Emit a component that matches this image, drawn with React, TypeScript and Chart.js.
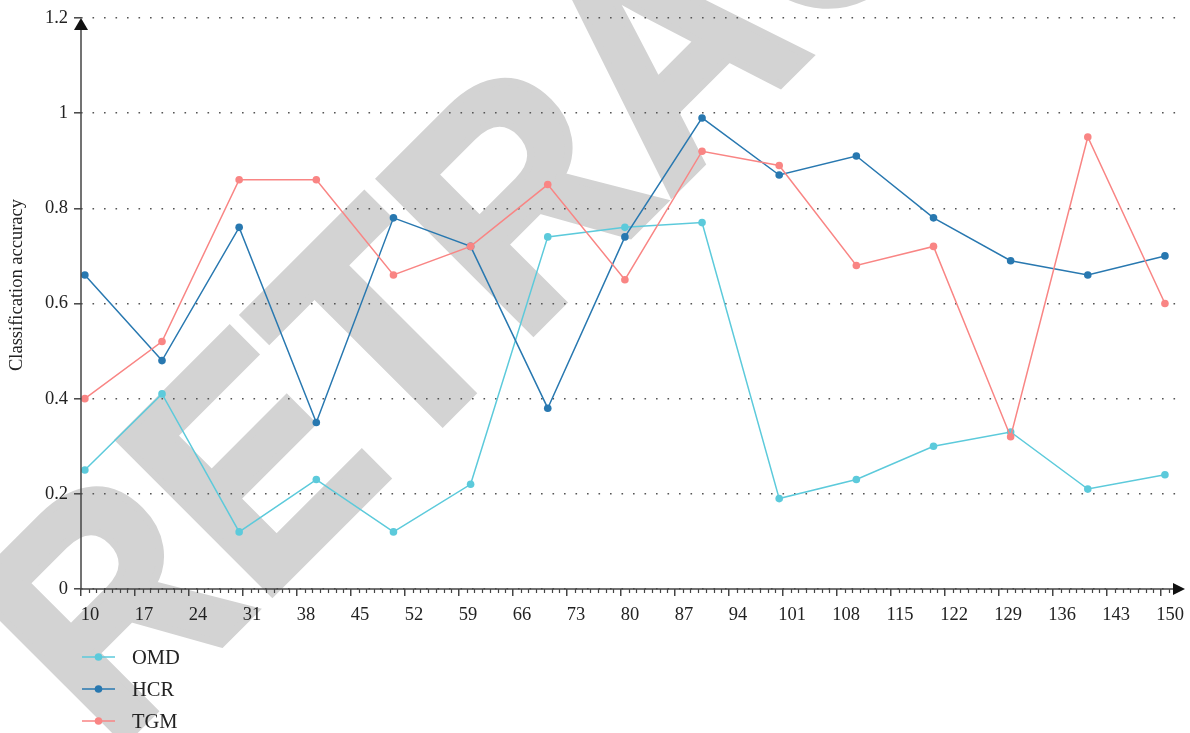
import React, { useEffect, useRef } from "react";
import { Chart, registerables } from "chart.js";

Chart.register(...registerables);

const xValues = [10, 20, 30, 40, 50, 60, 70, 80, 90, 100, 110, 120, 130, 140, 150];
const omd = [0.25, 0.41, 0.12, 0.23, 0.12, 0.22, 0.74, 0.76, 0.77, 0.19, 0.23, 0.3, 0.33, 0.21, 0.24];
const hcr = [0.66, 0.48, 0.76, 0.35, 0.78, 0.72, 0.38, 0.74, 0.99, 0.87, 0.91, 0.78, 0.69, 0.66, 0.7];
const tgm = [0.4, 0.52, 0.86, 0.86, 0.66, 0.72, 0.85, 0.65, 0.92, 0.89, 0.68, 0.72, 0.32, 0.95, 0.6];
const seriesNames = ["OMD", "HCR", "TGM"];
const seriesColors = ["#5ccadb", "#2878b0", "#f98584"];
const xTickLabels = ["10", "17", "24", "31", "38", "45", "52", "59", "66", "73", "80", "87", "94", "101", "108", "115", "122", "129", "136", "143", "150"];
const yTickLabels = ["0", "0.2", "0.4", "0.6", "0.8", "1", "1.2"];
const yTitle = "Classification accuracy";
const watermark = "RETRACTED";

const SERIF = '"Liberation Serif", "Times New Roman", serif';
const AXIS_COLOR = "#444";

const decorPlugin = {
  id: "decor",
  beforeDraw(chart: any) {
    const ctx = chart.ctx;
    ctx.save();
    ctx.translate(111, 754);
    ctx.rotate(-Math.PI / 4);
    ctx.scale(0.92, 1);
    ctx.font = 'bold 314px "Liberation Sans", Arial, sans-serif';
    ctx.fillStyle = "#d3d3d3";
    ctx.strokeStyle = "#d3d3d3";
    ctx.lineWidth = 8;
    ctx.lineJoin = "miter";
    ctx.textBaseline = "alphabetic";
    ctx.textAlign = "left";
    ctx.fillText(watermark, 0, 0);
    ctx.strokeText(watermark, 0, 0);
    ctx.restore();
  },
  afterDraw(chart: any) {
    const ctx = chart.ctx;
    const area = chart.chartArea;
    const xs = chart.scales.x;
    ctx.save();
    ctx.strokeStyle = AXIS_COLOR;
    ctx.fillStyle = "#111";
    ctx.lineWidth = 1.5;
    ctx.beginPath();
    ctx.moveTo(area.left, area.bottom);
    ctx.lineTo(area.right - 10, area.bottom);
    ctx.stroke();
    ctx.beginPath();
    ctx.moveTo(area.left, area.bottom);
    ctx.lineTo(area.left, area.top + 10);
    ctx.stroke();
    ctx.beginPath();
    ctx.moveTo(area.right, area.bottom);
    ctx.lineTo(area.right - 12, area.bottom - 6);
    ctx.lineTo(area.right - 12, area.bottom + 6);
    ctx.closePath();
    ctx.fill();
    ctx.beginPath();
    ctx.moveTo(area.left, area.top);
    ctx.lineTo(area.left - 7, area.top + 12);
    ctx.lineTo(area.left + 7, area.top + 12);
    ctx.closePath();
    ctx.fill();
    ctx.lineWidth = 1.2;
    ctx.beginPath();
    for (let n = 0; xs.min + n <= 150.6; n++) {
      if (n % 7 === 0) continue;
      const px = Math.round(xs.getPixelForValue(xs.min + n)) + 0.5;
      ctx.moveTo(px, area.bottom);
      ctx.lineTo(px, area.bottom + 4);
    }
    ctx.stroke();
    ctx.save();
    ctx.translate(17, 285);
    ctx.rotate(-Math.PI / 2);
    ctx.font = `18.5px ${SERIF}`;
    ctx.fillStyle = "#222";
    ctx.textAlign = "center";
    ctx.textBaseline = "middle";
    ctx.fillText(yTitle, 0, 0);
    ctx.restore();
    const rows = [657, 689, 721];
    chart.data.datasets.forEach((ds: any, i: number) => {
      const y = rows[i];
      ctx.strokeStyle = ds.borderColor;
      ctx.lineWidth = 1.5;
      ctx.beginPath();
      ctx.moveTo(82, y);
      ctx.lineTo(115, y);
      ctx.stroke();
      ctx.fillStyle = ds.borderColor;
      ctx.beginPath();
      ctx.arc(98.5, y, 3.8, 0, Math.PI * 2);
      ctx.fill();
      ctx.fillStyle = "#222";
      ctx.font = `20.5px ${SERIF}`;
      ctx.textAlign = "left";
      ctx.textBaseline = "alphabetic";
      ctx.fillText(ds.label, 132, y + 7);
    });
    ctx.restore();
  },
};

export default function App() {
  const canvasRef = useRef<HTMLCanvasElement | null>(null);

  useEffect(() => {
    const canvas = canvasRef.current;
    if (!canvas) return;
    const seriesValues = [omd, hcr, tgm];
    const orders = [2, 1, 0];
    const chart = new Chart(canvas, {
      type: "line",
      data: {
        datasets: seriesValues.map((vals, i) => ({
          label: seriesNames[i],
          data: xValues.map((x, j) => ({ x, y: vals[j] })),
          borderColor: seriesColors[i],
          backgroundColor: seriesColors[i],
          pointBackgroundColor: seriesColors[i],
          pointBorderWidth: 0,
          pointRadius: 3.8,
          borderWidth: 1.5,
          tension: 0,
          fill: false,
          order: orders[i],
        })),
      },
      options: {
        animation: false,
        responsive: true,
        maintainAspectRatio: false,
        devicePixelRatio: 1,
        layout: { padding: { top: 18, right: 5, bottom: 0, left: 0 } },
        plugins: {
          legend: { display: false },
          tooltip: { enabled: false },
        },
        scales: {
          x: {
            type: "linear",
            min: 9.5,
            max: 152.6,
            afterBuildTicks: (scale: any) => {
              scale.ticks = xTickLabels.map((_, i) => ({ value: 9.5 + 7 * i }));
            },
            afterFit: (scale: any) => {
              scale.height = 144;
            },
            ticks: {
              autoSkip: false,
              maxRotation: 0,
              minRotation: 0,
              labelOffset: 9,
              padding: 8,
              color: "#222",
              font: { family: SERIF, size: 18.5 },
              callback: (_v: any, i: number) => xTickLabels[i],
            },
            grid: {
              display: true,
              drawOnChartArea: false,
              drawTicks: true,
              tickLength: 7,
              color: AXIS_COLOR,
              lineWidth: 1.5,
            },
            border: { display: false },
          },
          y: {
            type: "linear",
            min: 0,
            max: 1.2,
            afterBuildTicks: (scale: any) => {
              scale.ticks = yTickLabels.map((t) => ({ value: parseFloat(t) }));
            },
            afterFit: (scale: any) => {
              scale.width = 81;
            },
            ticks: {
              padding: 6,
              color: "#222",
              font: { family: SERIF, size: 18.5 },
              callback: (_v: any, i: number) => yTickLabels[i],
            },
            grid: {
              display: true,
              drawOnChartArea: true,
              drawTicks: true,
              tickLength: 7,
              color: "#555",
              lineWidth: 1.6,
              tickColor: AXIS_COLOR,
              tickWidth: 1.5,
              tickBorderDash: [],
            },
            border: { display: false, dash: [1.6, 9.9], dashOffset: 0 },
          },
        },
      },
      plugins: [decorPlugin],
    } as any);
    return () => chart.destroy();
  }, []);

  return (
    <div style={{ position: "fixed", left: 0, top: 0, width: 1190, height: 733 }}>
      <canvas ref={canvasRef} />
    </div>
  );
}
